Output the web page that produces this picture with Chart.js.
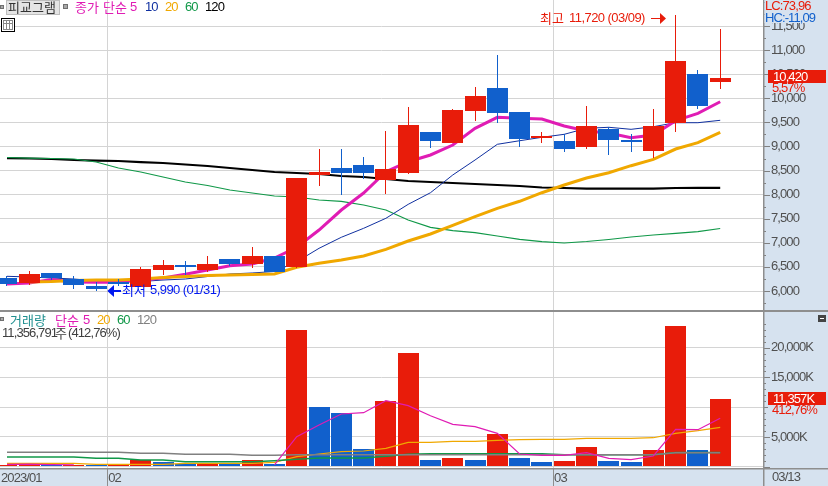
<!DOCTYPE html>
<html lang="ko"><head><meta charset="utf-8">
<style>
html,body{margin:0;padding:0;background:#d6e2ef;overflow:hidden}
canvas{position:absolute;left:0;display:block}
#priceCanvas{top:0}#volCanvas{top:311px}
</style>
<script src="https://cdn.jsdelivr.net/npm/chart.js@4"></script>
</head><body>
<canvas id="priceCanvas" width="828" height="311"></canvas>
<canvas id="volCanvas" width="828" height="175"></canvas>
<script>
// index 0..32, daily candles 2023/01 - 2023/03
const opens  = [6270,6172,6374,6250,6104,6187,6089,6436,6540,6436,6664,6560,6726,6504,8408,8553,8615,8304,8449,9300,9072,9736,10213,9715,9176,9113,8989,9362,9134,8906,9487,10504,10340];
const closes = [6145,6353,6270,6125,6042,6145,6457,6540,6498,6560,6560,6726,6394,8345,8470,8449,8449,8532,9445,9113,9757,10047,9694,9155,9217,8947,9425,9134,9092,9425,10774,9840,10420];
const highs  = [6305,6409,6374,6305,6187,6250,6490,6643,6622,6726,6664,6913,6726,8345,8947,8947,8781,9321,9819,9300,9778,10234,10898,9715,9300,9259,9840,9404,9259,9778,11720,10587,11435];
const lows   = [6100,6125,6228,6040,5990,6104,6089,6332,6332,6394,6519,6477,6394,6470,8179,7992,8325,8013,8428,8968,9072,9528,9487,8989,9072,8885,8947,8823,8885,8760,9300,9778,10192];
const ma5    = [6145,6166,6239,6187,6181,6181,6228,6270,6347,6436,6525,6560,6685,6907,7266,7681,8034,8476,8684,8823,9030,9377,9605,9584,9570,9425,9321,9279,9182,9238,9535,9688,9929];
const ma10   = [6305,6291,6270,6249,6208,6193,6197,6228,6249,6301,6353,6374,6405,6608,6886,7115,7301,7509,7799,8040,8408,8719,9045,9119,9190,9252,9377,9398,9356,9410,9493,9493,9543];
const ma20   = [null,6187,6197,6218,6228,6228,6249,6280,6301,6322,6332,6342,6353,6492,6575,6643,6726,6865,7038,7183,7364,7542,7716,7862,8040,8200,8345,8455,8601,8733,8947,9078,9294];
const ma60   = [8771,8760,8750,8740,8677,8553,8470,8366,8262,8190,8096,8034,7972,7951,7889,7862,7785,7681,7474,7322,7252,7210,7142,7073,7023,6996,7027,7069,7121,7162,7198,7231,7297];
const ma120  = [8760,8750,8740,8719,8708,8698,8677,8657,8626,8594,8553,8511,8470,8449,8428,8387,8366,8325,8283,8262,8242,8221,8200,8179,8148,8138,8127,8123,8123,8123,8138,8142,8142];
const volume = [300,450,235,290,290,290,1125,790,450,450,450,1125,450,22960,10030,9020,2970,11040,19100,1125,1460,1125,5490,1460,790,960,3310,960,790,2805,23640,2805,11357];
const volumeUp=[1,1,0,1,0,1,1,0,0,1,0,1,0,1,0,0,0,1,1,0,1,0,1,0,0,1,1,0,0,1,1,0,1];
const volMa5 = [400,420,350,330,null,null,null,null,null,null,null,null,290,5040,7005,8850,9070,11090,10250,8570,7120,6720,5610,2130,1915,1915,2350,1410,1175,1800,6280,6215,8130];
const volMa20= [570,570,570,570,400,400,400,400,570,570,570,570,740,1680,2130,2520,2640,3090,4100,4100,4240,4240,4430,4540,4600,4600,4770,4770,4770,4870,5610,6050,6620];
const volMa60= [1630,1630,1630,1630,1410,1410,1125,1125,840,840,840,840,1010,1240,1460,1460,1460,1750,2100,2180,2180,2180,2180,2180,2180,2015,2015,2015,2015,2015,2400,2400,2400];
const volMa120=[2420,2420,2420,2420,2420,2420,2250,2250,2080,2080,2080,1915,1915,2015,2015,2015,2015,2015,2015,2015,2015,2015,2015,2015,2015,2015,2015,2015,2015,2015,2350,2350,2350];
const monthTicks = [{value:4.5,label:'02'},{value:24.5,label:'03'}];
const firstDateLabel = '2023/01', lastDateLabel = '03/13';
const lastPrice = '10,420', lastPricePct = '5,57%', lastVolume = '11,357K', lastVolumePct = '412,76%';

const RED='#e81c0a', BLUE='#1160cc', MAG='#e01cb4', NAVY='#1030a0', ORG='#f0a800', GRN='#109848', PANEL='#d6e2ef', GRID='#d4d4d4', EDGE='#8e8e8e', TXT='#505050';
const FONT='"Liberation Sans","Noto Sans CJK KR",sans-serif';
const KFONT='13px "Noto Sans CJK KR",sans-serif';
const F13='13px '+FONT;
const TIGHT='-0.9px', LOOSE='-0.55px';
const X_MIN=-0.314, X_MAX=33.92;
const idx=opens.map((_,i)=>i);
const pts=a=>idx.map(i=>({x:i,y:a[i]}));
const line=(a,color,w,order)=>({type:'line',data:pts(a),borderColor:color,borderWidth:w,pointRadius:0,tension:0,order,spanGaps:false,borderCapStyle:'butt'});
const colorsFor=i=>closes[i]>=opens[i]?RED:BLUE;

function text(ctx,s,x,y,color,font,spacing){ctx.font=font||F13;ctx.letterSpacing=(font===KFONT)?'0px':(spacing||TIGHT);ctx.fillStyle=color;ctx.textAlign='left';ctx.textBaseline='middle';ctx.fillText(s,x,y);}
function runs(ctx,y,list){list.forEach(r=>text(ctx,r[0],r[1],y,r[2],/[^\x00-\x7f]/.test(r[0])?KFONT:F13));}
function square(ctx,x,y,s){ctx.fillStyle='#a8a8a8';ctx.fillRect(x,y,s,s);ctx.strokeStyle='#707070';ctx.lineWidth=1;ctx.strokeRect(x+.5,y+.5,s-1,s-1);}

const snapBars={id:'snapBars',afterDatasetsUpdate(chart){
  chart.data.datasets.forEach((d,n)=>{if(d.type!=='bar')return;chart.getDatasetMeta(n).data.forEach(el=>{
    el.x=Math.round(el.x-.5)+.5;el.y=Math.round(el.y);el.base=Math.round(el.base);});});
}};
const paneBg={id:'paneBg',beforeDraw(chart){const c=chart.ctx,a=chart.chartArea;c.letterSpacing=TIGHT;c.save();c.fillStyle=PANEL;c.fillRect(0,0,chart.width,chart.height);c.fillStyle='#fff';c.fillRect(a.left,a.top,a.right-a.left,a.bottom-a.top);c.restore();}};
function axisMarks(isMajor,skip){return {id:'axisMarks',afterDraw(chart){const c=chart.ctx,s=chart.scales.y,a=chart.chartArea;c.save();c.fillStyle='#808080';
  s.ticks.forEach(t=>{if(skip&&skip(t.value))return;const y=Math.round(s.getPixelForValue(t.value));c.fillRect(a.right,y,isMajor(t.value)?7:3,1);});
  c.fillStyle=EDGE;c.fillRect(a.right,0,1.5,chart.height);c.restore();}};}

const priceOverlay={id:'priceOverlay',afterDraw(chart){const c=chart.ctx,x=chart.scales.x,y=chart.scales.y;c.save();
  square(c,0,5,4);c.fillStyle='#e4e4e4';c.fillRect(6,0,54,14);c.strokeStyle='#bdbdbd';c.strokeRect(6.5,.5,53,14);
  text(c,'피교그램',8,7.5,'#333',KFONT);square(c,63,4,5);
  runs(c,7.5,[['종가',75,MAG],['단순',103,MAG],['5',130,MAG],['10',145,NAVY],['20',165,ORG],['60',185,GRN],['120',205,'#000']]);
  c.fillStyle='#fff';c.fillRect(1,18,14,14);c.strokeStyle='#000';c.lineWidth=1;c.strokeRect(1.5,18.5,13,13);c.strokeStyle='#888';c.strokeRect(3.5,20.5,9,9);
  c.beginPath();c.moveTo(3.5,23.5);c.lineTo(12.5,23.5);c.moveTo(6.5,21);c.lineTo(6.5,29);c.moveTo(9.5,21);c.lineTo(9.5,29);c.stroke();
  // highest / lowest markers anchored on the scales
  const hy=Math.round(y.getPixelForValue(highs[30]))+3, lx=x.getPixelForValue(4.5), ly=Math.round(y.getPixelForValue(lows[4]))-1;
  text(c,'최고',540,hy,RED,KFONT);text(c,'11,720 (03/09)',569,hy,RED,F13,LOOSE);
  c.fillStyle=RED;c.fillRect(651,hy,10,1);c.beginPath();c.moveTo(666,hy+.5);c.lineTo(660,hy-5);c.lineTo(660,hy+6);c.fill();
  c.fillStyle='#0018f0';c.fillRect(113,ly,8,2);c.beginPath();c.moveTo(lx,ly+1);c.lineTo(114,ly-5);c.lineTo(114,ly+7);c.fill();
  text(c,'최저',122,ly,'#0018f0',KFONT);text(c,'5,990 (01/31)',150,ly,'#0018f0',F13,LOOSE);
  // right side labels
  c.fillStyle=PANEL;c.fillRect(764.5,0,63.5,23);
  text(c,'LC:73,96',765,6,RED,F13);text(c,'HC:-11,09',765,18,BLUE,F13);
  const py=Math.round(y.getPixelForValue(closes[32]));
  c.fillStyle=PANEL;c.fillRect(768,py+5,58,9);
  c.fillStyle=RED;c.fillRect(768,py-8,58,13);text(c,lastPrice,773,py-1,'#fff',F13);
  text(c,lastPricePct,772,py+10,RED,F13);
  c.fillStyle=EDGE;c.fillRect(0,310,chart.width,1);
  c.restore();}};

const volOverlay={id:'volOverlay',afterDraw(chart){const c=chart.ctx,x=chart.scales.x,y=chart.scales.y,a=chart.chartArea;c.save();
  square(c,0,6,4);
  runs(c,9,[['거래량',10,'#209090'],['단순',55,MAG],['5',83,MAG],['20',97,ORG],['60',117,GRN],['120',137,'#808080']]);
  text(c,'11,356,791',2,22,'#404040',F13);text(c,'주',55,22,'#404040',KFONT);text(c,'(412,76%)',68,22,'#404040',F13);
  c.fillStyle='#444';c.fillRect(818,4,8,7);c.fillStyle='#fff';c.fillRect(820,7,4,1);
  const vy=Math.round(y.getPixelForValue(volume[32]));
  c.fillStyle=PANEL;c.fillRect(768,vy+5,58,12);
  c.fillStyle=RED;c.fillRect(768,vy-7,58,13);text(c,lastVolume,773,vy,'#fff',F13);
  text(c,lastVolumePct,772,vy+11,RED,F13);
  c.fillStyle=EDGE;c.fillRect(0,0,chart.width,1);c.fillRect(0,a.bottom,chart.width,1.5);
  monthTicks.forEach(t=>c.fillRect(Math.round(x.getPixelForValue(t.value)),a.bottom,1,chart.height-a.bottom));
  text(c,lastDateLabel,772,a.bottom+9,TXT,F13);
  c.restore();}};

const xScale=(extra)=>Object.assign({type:'linear',min:X_MIN,max:X_MAX,offset:false,
  afterBuildTicks(ax){ax.ticks=monthTicks.map(t=>({value:t.value}));},
  border:{display:false},grid:{offset:false,color:GRID,lineWidth:1,drawTicks:false},ticks:{display:false}},extra||{});
const fixedRight=s=>{s.width=65;s.paddingTop=0;s.paddingBottom=0;};
const stepTicks=step=>ax=>{const list=[];for(let v=Math.ceil(ax.min/step)*step;v<=ax.max;v+=step)list.push({value:v});ax.ticks=list;};
const base={responsive:false,animation:false,events:[],layout:{padding:0},plugins:{legend:{display:false},tooltip:{enabled:false}}};
const isP=v=>v%500===0&&v>=6000&&v<=11500, isV=v=>v%5000===0&&v<=20000;

new Chart(document.getElementById('priceCanvas'),{
  type:'bar',
  data:{datasets:[
    line(ma120,'#000',2.2,5),line(ma60,GRN,1.2,4),line(ma10,NAVY,1,3),line(ma5,MAG,3,2),line(ma20,ORG,3,1),
    {type:'bar',data:idx.map(i=>({x:i,y:[lows[i],highs[i]]})),backgroundColor:idx.map(colorsFor),barThickness:1,grouped:false,borderWidth:0,inflateAmount:0,order:0},
    {type:'bar',data:idx.map(i=>({x:i,y:[opens[i],closes[i]]})),backgroundColor:idx.map(colorsFor),barThickness:21,grouped:false,borderWidth:0,inflateAmount:0,order:-1}
  ]},
  options:Object.assign({},base,{scales:{
    x:xScale({afterFit(s){s.height=0;}}),
    y:{position:'right',min:5585,max:12040,afterFit:fixedRight,afterBuildTicks:stepTicks(250),border:{display:false},
      grid:{drawTicks:false,lineWidth:1,color:c=>isP(c.tick.value)?GRID:'rgba(0,0,0,0)'},
      ticks:{autoSkip:false,padding:8,crossAlign:'near',color:TXT,font:{family:FONT,size:13},
        callback:v=>isP(v)?v.toLocaleString('en-US'):''}}
  }}),
  plugins:[paneBg,snapBars,axisMarks(isP),priceOverlay]
});

new Chart(document.getElementById('volCanvas'),{
  type:'bar',
  data:{datasets:[
    line(volMa120,'#808080',1.5,1),line(volMa60,GRN,1.5,2),line(volMa20,ORG,1.2,3),line(volMa5,MAG,1.2,0),
    {type:'bar',data:idx.map(i=>({x:i,y:volume[i]})),backgroundColor:idx.map(i=>volumeUp[i]?RED:BLUE),barThickness:21,grouped:false,borderWidth:0,inflateAmount:0,order:6}
  ]},
  options:Object.assign({},base,{scales:{
    x:{type:'linear',min:X_MIN,max:X_MAX,offset:false,border:{display:false},
      afterBuildTicks(ax){ax.ticks=[{value:X_MIN}].concat(monthTicks.map(t=>({value:t.value})));},
      afterFit(s){s.height=18;s.paddingLeft=0;s.paddingRight=0;},
      grid:{offset:false,drawTicks:false,lineWidth:1,color:c=>c.tick&&c.tick.value===X_MIN?'rgba(0,0,0,0)':GRID},
      ticks:{align:'start',padding:3,labelOffset:1,autoSkip:false,maxRotation:0,color:TXT,font:{family:FONT,size:13},
        callback:v=>{const m=monthTicks.find(t=>t.value===v);return m?m.label:firstDateLabel;}}},
    y:{position:'right',min:-218,max:26158,afterFit:fixedRight,afterBuildTicks:stepTicks(1000),border:{display:false},
      grid:{drawTicks:false,lineWidth:1,color:c=>(c.tick.value%5000===0&&c.tick.value<=20000)?GRID:'rgba(0,0,0,0)'},
      ticks:{autoSkip:false,padding:8,crossAlign:'near',color:TXT,font:{family:FONT,size:13},
        callback:v=>(isV(v)&&v>0)?v.toLocaleString('en-US')+'K':''}}
  }}),
  plugins:[paneBg,snapBars,axisMarks(isV,v=>v>24500),volOverlay]
});
</script>
</body></html>
